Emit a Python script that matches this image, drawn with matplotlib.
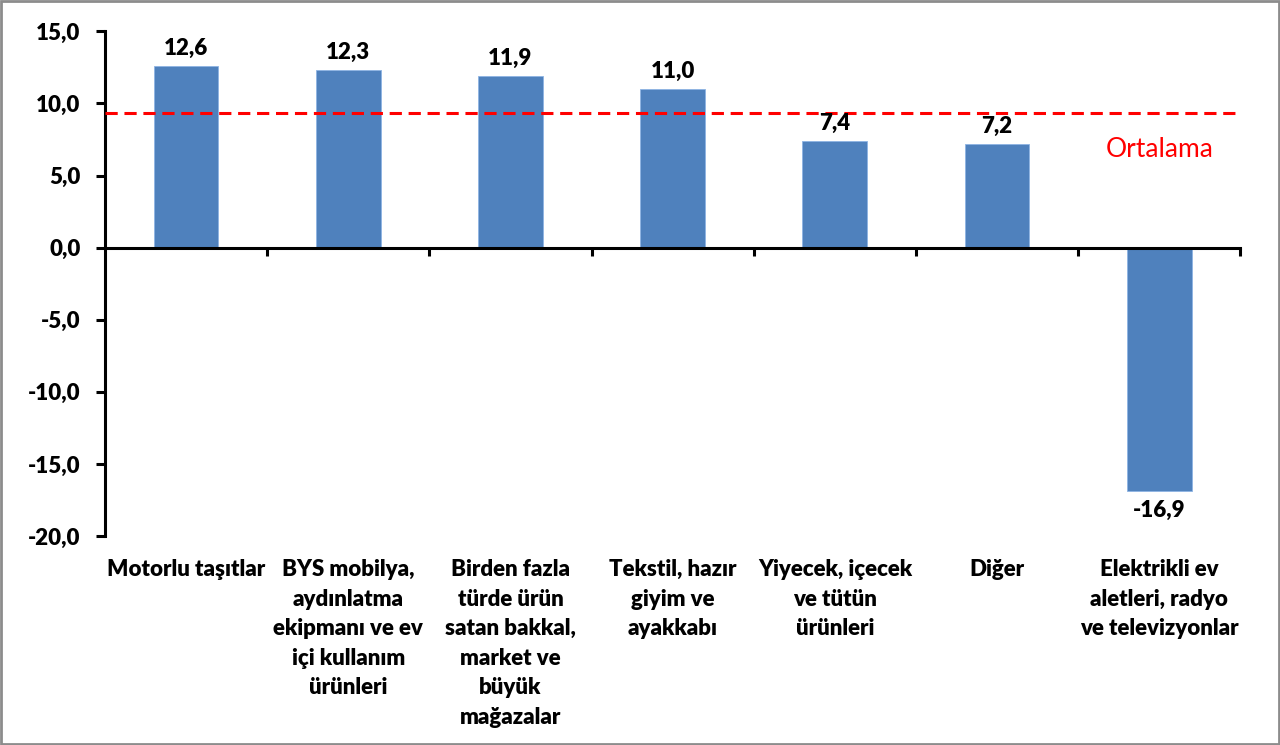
import matplotlib.pyplot as plt
from matplotlib.patches import Rectangle

# Chart data
categories = [
    "Motorlu taşıtlar",
    "BYS mobilya,\naydınlatma\nekipmanı ve ev\niçi kullanım\nürünleri",
    "Birden fazla\ntürde ürün\nsatan bakkal,\nmarket ve\nbüyük\nmağazalar",
    "Tekstil, hazır\ngiyim ve\nayakkabı",
    "Yiyecek, içecek\nve tütün\nürünleri",
    "Diğer",
    "Elektrikli ev\naletleri, radyo\nve televizyonlar",
]
values = [12.6, 12.3, 11.9, 11.0, 7.4, 7.2, -16.9]
average = 9.3
average_label = "Ortalama"
y_ticks = [-20, -15, -10, -5, 0, 5, 10, 15]

plt.rcParams['font.family'] = ['Lato', 'DejaVu Sans']

fig = plt.figure(figsize=(12.8, 7.45), dpi=100)
ax = fig.add_axes([0.082, 0.2805, 0.887, 0.6775])

x = list(range(len(values)))
ax.bar(x, values, width=0.4, color='#4F81BD', edgecolor='#8EB4E3', linewidth=0.6, zorder=2)

# average line
ax.axhline(average, color='#FF0000', linestyle=(0, (4, 2.2)), linewidth=2.2, zorder=3)
ax.text(6.0, 6.8, average_label, color='#FF0000', fontsize=19, ha='center', va='center')

fw = 'heavy'
# value labels
for xi, v in zip(x, values):
    lbl = f"{v:.1f}".replace('.', ',')
    if v >= 0:
        ax.annotate(lbl, (xi, v), xytext=(0, 5), textcoords='offset points',
                    ha='center', va='bottom', fontsize=16, fontweight=fw)
    else:
        ax.annotate(lbl, (xi, v), xytext=(0, -6), textcoords='offset points',
                    ha='center', va='top', fontsize=16, fontweight=fw)

ax.set_xlim(-0.5, len(values) - 0.5)
ax.set_ylim(-20, 15)
ax.set_yticks(y_ticks)
ax.set_yticklabels([f"{t:.1f}".replace('.', ',') for t in y_ticks],
                   fontsize=16, fontweight=fw)

# x axis at zero, ticks between categories
ax.spines['top'].set_visible(False)
ax.spines['right'].set_visible(False)
ax.spines['bottom'].set_position(('data', 0))
ax.spines['left'].set_linewidth(2.2)
ax.spines['bottom'].set_linewidth(2.2)
ax.set_xticks([i + 0.5 for i in range(len(values))])
ax.set_xticklabels([])
ax.tick_params(axis='x', direction='out', length=6, width=2.2)
ax.tick_params(axis='y', direction='out', length=6.5, width=2.2, pad=11)

# category labels under the plot
for xi, cat in zip(x, categories):
    ax.text(xi, -21.6, cat, ha='center', va='top', fontsize=16,
            fontweight=fw, linespacing=1.5)

# outer border
fig.patches.append(Rectangle((0.001, 0.001), 0.998, 0.997, transform=fig.transFigure,
                             fill=False, edgecolor='#8C8C8C', linewidth=2))

fig.savefig('out.png', dpi=100)
